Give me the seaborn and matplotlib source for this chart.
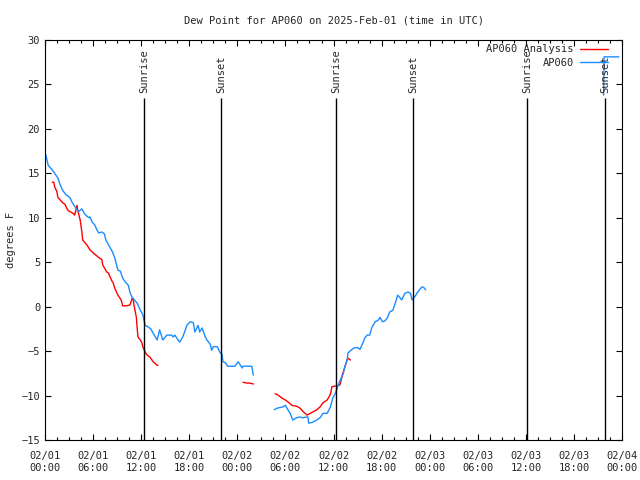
import numpy as np
import pandas as pd
import seaborn as sns
import matplotlib.pyplot as plt

# hours since 2025-02-01 00:00 UTC, None = gap in the record
analysis_hours = [0.9, 1.1, 1.2, 1.5, 1.6, 1.9, 2.1, 2.2, 2.5, 2.7, 2.9, 3.1, 3.5, 3.7, 4.0, 4.1,
                  4.4, 4.6, 4.7, 5.0, 5.4, 5.6, 6.2, 6.9, 7.1, 7.2, 7.7, 7.9, 8.4, 8.5, 8.7, 9.1,
                  9.5, 9.7, 10.2, 10.6, 10.9, 11.0, 11.1, 11.4, 11.5, 11.6, 11.9, 12.1, 12.2, 12.5,
                  12.7, 13.1, 13.5, 14.0, 14.1, None,
                  24.7, 25.2, 25.6, 26.0, None,
                  28.7, 29.0, 29.6, 30.0, 30.3, 30.8, 31.4, 31.8, 32.2, 32.7, 33.1, 33.5, 33.9,
                  34.3, 34.7, 35.2, 35.6, 35.8, 36.4, 36.8, 37.1, 37.4, 37.7, 37.8, 38.1]
analysis_vals = [14.0, 14.0, 13.5, 12.9, 12.3, 12.0, 11.8, 11.7, 11.5, 11.1, 10.8, 10.7, 10.5, 10.3, 11.4, 10.8,
                 9.7, 8.4, 7.5, 7.2, 6.7, 6.4, 5.9, 5.4, 5.3, 4.7, 3.9, 3.8, 2.8, 2.7, 2.1, 1.3,
                 0.75, 0.1, 0.1, 0.2, 1.0, 0.8, 0.2, -1.2, -2.4, -3.4, -3.75, -4.1, -4.5, -5.1,
                 -5.4, -5.7, -6.2, -6.6, -6.6, None,
                 -8.5, -8.6, -8.6, -8.7, None,
                 -9.8, -9.9, -10.3, -10.5, -10.7, -11.1, -11.2, -11.4, -11.8, -12.2, -12.0, -11.8, -11.6,
                 -11.3, -10.8, -10.5, -9.9, -9.0, -8.9, -8.8, -7.7, -6.8, -6.0, -5.8, -6.0]

station_hours = [0.1, 0.4, 0.9, 1.2, 1.6, 1.9, 2.2, 2.6, 3.1, 3.4, 3.7, 4.0, 4.2, 4.6, 4.9, 5.2,
                 5.5, 5.6, 5.9, 6.2, 6.5, 6.7, 7.1, 7.4, 7.6, 7.9, 8.4, 8.7, 9.1, 9.4, 9.7, 10.0,
                 10.4, 10.6, 10.9, 11.1, 11.5, 11.9, 12.2, 12.5, 12.9, 13.2, 13.5, 14.0, 14.3, 14.7,
                 15.2, 15.8, 16.0, 16.2, 16.8, 17.2, 17.7, 18.1, 18.5, 18.7, 19.1, 19.3, 19.6, 20.0,
                 20.2, 20.6, 20.8, 21.0, 21.5, 21.8, 22.1, 22.2, 22.5, 22.8, 23.7, 24.1, 24.6, 24.7,
                 25.8, 26.0, None,
                 28.6, 29.0, 29.6, 30.0, 30.3, 30.6, 30.9, 31.4, 31.8, 32.1, 32.8, 32.9, 33.4, 33.9,
                 34.3, 34.7, 35.2, 35.6, 35.9, 36.2, 36.6, 37.1, 37.2, 37.4, 37.7, 37.8, 38.3, 38.7,
                 39.0, 39.3, 39.7, 39.9, 40.2, 40.5, 40.8, 41.2, 41.6, 41.8, 42.1, 42.4, 42.7, 43.0,
                 43.4, 43.7, 44.0, 44.3, 44.5, 44.9, 45.3, 45.6, 45.8, 46.0, 46.2, 46.5, 47.0, 47.2,
                 47.5, None,
                 69.7, 69.75, 71.6]
station_vals = [17.1, 15.9, 15.4, 15.0, 14.5, 13.7, 13.1, 12.6, 12.3, 11.7, 11.3, 10.9, 10.7, 11.0, 10.5, 10.2,
                10.0, 10.1, 9.5, 9.2, 8.6, 8.3, 8.4, 8.2, 7.5, 7.0, 6.2, 5.5, 4.1, 4.0, 3.2, 2.8,
                2.4, 1.6, 1.0, 0.8, 0.4, -0.4, -0.9, -2.1, -2.3, -2.5, -3.0, -3.75, -2.6, -3.75,
                -3.2, -3.2, -3.4, -3.2, -4.0, -3.4, -2.1, -1.7, -1.8, -2.85, -2.1, -2.85, -2.4, -3.4,
                -3.75, -4.2, -4.9, -4.5, -4.5, -5.1, -5.4, -6.2, -6.3, -6.7, -6.7, -6.2, -6.9, -6.7,
                -6.7, -7.7, None,
                -11.6, -11.4, -11.3, -11.1, -11.6, -12.0, -12.75, -12.5, -12.4, -12.5, -12.4, -13.1, -13.0, -12.75,
                -12.5, -12.0, -12.0, -11.3, -10.3, -9.8, -8.8, -7.7, -7.6, -6.8, -6.0, -5.2, -4.8, -4.6,
                -4.6, -4.8, -4.0, -3.5, -3.2, -3.2, -2.3, -1.7, -1.5, -1.2, -1.7, -1.6, -1.3, -0.6,
                -0.4, 0.4, 1.3, 1.0, 0.75, 1.5, 1.65, 1.5, 0.75, 1.0, 1.2, 1.65, 2.2, 2.2,
                1.9, None,
                23.8, 28.1, 28.1]

sunrise_hours = [12.35, 36.3, 60.15]
sunset_hours = [21.95, 45.9, 69.85]

tick_hours = list(range(0, 73, 6))
tick_labels = ['02/01\n00:00', '02/01\n06:00', '02/01\n12:00', '02/01\n18:00',
               '02/02\n00:00', '02/02\n06:00', '02/02\n12:00', '02/02\n18:00',
               '02/03\n00:00', '02/03\n06:00', '02/03\n12:00', '02/03\n18:00',
               '02/04\n00:00']


def to_frame(hours, vals, name):
    df = pd.DataFrame({'hour': hours, 'dewpoint': vals}).astype(float)
    df['seg'] = df['hour'].isna().cumsum()
    df['series'] = name
    return df.dropna()


data = pd.concat([to_frame(analysis_hours, analysis_vals, 'AP060 Analysis'),
                  to_frame(station_hours, station_vals, 'AP060')], ignore_index=True)

sns.set_theme(style='ticks')
plt.rcParams['font.family'] = ['DejaVu Sans Mono']
plt.rcParams['xtick.direction'] = 'in'
plt.rcParams['ytick.direction'] = 'in'

fig = plt.figure(figsize=(6.4, 4.8), dpi=100)
ax = fig.add_axes([0.0703, 0.0833, 0.9017, 0.8334])

sns.lineplot(data=data, x='hour', y='dewpoint', hue='series', units='seg', estimator=None,
             palette={'AP060 Analysis': '#ff0000', 'AP060': '#1a8cff'},
             linewidth=1, ax=ax, sort=False)

for h in sunrise_hours:
    ax.vlines(h, -15, 23.5, color='black', linewidth=1)
    ax.text(h, 24.0, 'Sunrise', rotation=90, ha='center', va='bottom', fontsize=7.5)
for h in sunset_hours:
    ax.vlines(h, -15, 23.5, color='black', linewidth=1)
    ax.text(h, 24.0, 'Sunset', rotation=90, ha='center', va='bottom', fontsize=7.5)

ax.set_xlim(0, 72)
ax.set_ylim(-15, 30)
ax.set_xticks(tick_hours)
ax.set_xticklabels(tick_labels, fontsize=7.5)
ax.set_xticks(np.arange(0, 72.1, 1.5), minor=True)
ax.set_yticks(range(-15, 31, 5))
ax.tick_params(axis='y', labelsize=7.5)
ax.tick_params(axis='x', pad=8)
ax.tick_params(which='both', top=True, right=True, length=4, width=0.8, color='black')
ax.tick_params(which='minor', length=2)
for s in ax.spines.values():
    s.set_color('black')
    s.set_linewidth(0.8)

ax.set_xlabel('')
ax.set_ylabel('degrees F', fontsize=7.5)
ax.set_title('Dew Point for AP060 on 2025-Feb-01 (time in UTC)', fontsize=7.5, pad=12)

handles, labels = ax.get_legend_handles_labels()
ax.legend(handles, labels, loc='upper right', frameon=False, markerfirst=False,
          fontsize=7.5, handlelength=2.7, handletextpad=0.6, labelspacing=0.35,
          borderaxespad=0.1, borderpad=0.3, bbox_to_anchor=(0.983, 1.0))

fig.savefig('out.png', dpi=100)
